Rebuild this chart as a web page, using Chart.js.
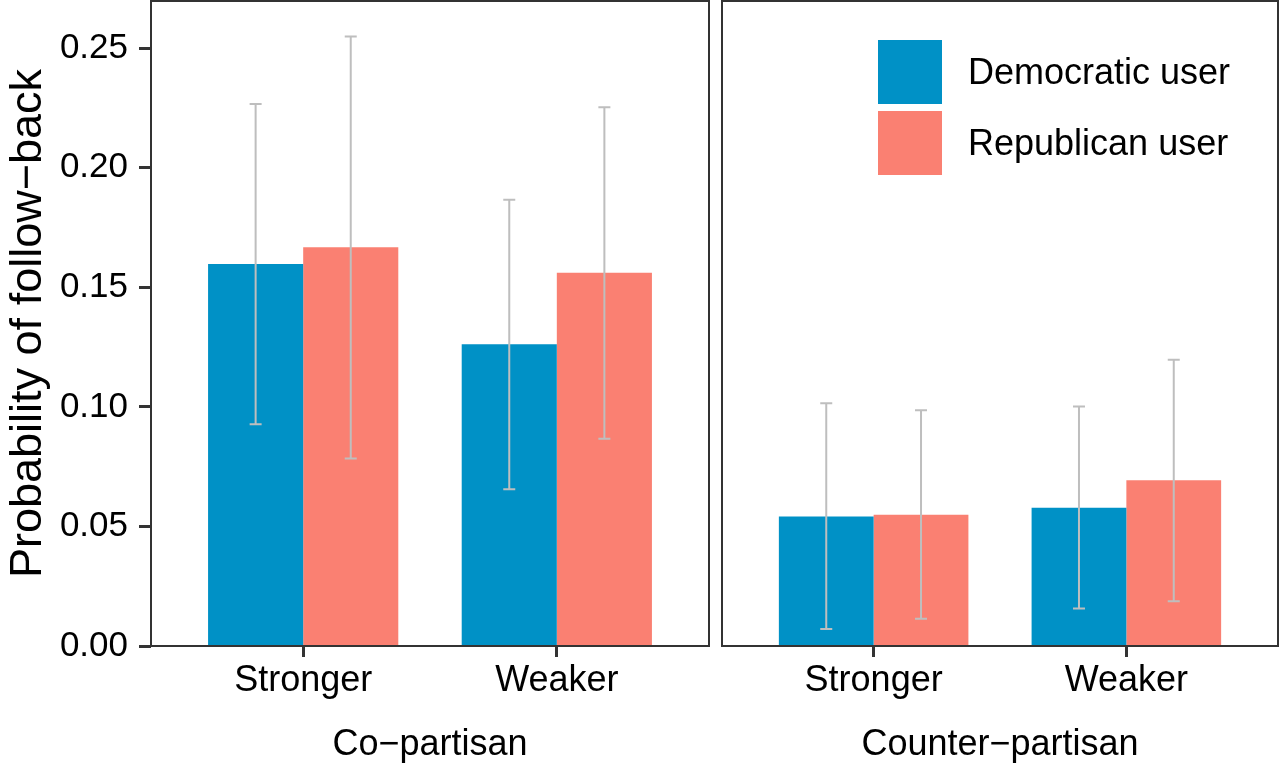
<!DOCTYPE html>
<html lang="en">
<head>
<meta charset="UTF-8">
<title>Probability of follow-back</title>
<script src="https://cdn.jsdelivr.net/npm/chart.js"></script>
<style>
  html, body { margin: 0; padding: 0; background: #fff; }
  #wrap { position: relative; width: 1280px; height: 771px; font-family: 'Liberation Sans', Arial, sans-serif; }
  .pane { position: absolute; top: 0; height: 771px; }
  #paneLeft { left: 0; width: 712px; }
  #paneRight { left: 712px; width: 568px; }
  #legend { position: absolute; left: 878px; top: 40px; }
  .item { display: flex; align-items: center; height: 64px; margin-bottom: 7px; }
  .key { width: 64px; height: 64px; margin-right: 26px; }
  .lbl { font-size: 36px; color: #000; white-space: nowrap; }
</style>
</head>
<body>
<div id="wrap">
  <div class="pane" id="paneLeft"><canvas id="leftChart"></canvas></div>
  <div class="pane" id="paneRight"><canvas id="rightChart"></canvas></div>
  <div id="legend"></div>
</div>
<script>
// categories
const groups = ['Stronger', 'Weaker'];
const panels = ['Co\u2212partisan', 'Counter\u2212partisan'];
const seriesNames = ['Democratic user', 'Republican user'];
const seriesColors = ['#0091C6', '#FA8072'];
const yTicks = [0, 0.05, 0.10, 0.15, 0.20, 0.25];

// Co-partisan panel
const demCo = [0.1597, 0.1262];
const demCoLo = [0.0927, 0.0655];
const demCoHi = [0.2266, 0.1866];
const repCo = [0.1667, 0.1561];
const repCoLo = [0.0784, 0.0867];
const repCoHi = [0.2549, 0.2253];

// Counter-partisan panel
const demCounter = [0.0542, 0.0578];
const demCounterLo = [0.0071, 0.0157];
const demCounterHi = [0.1015, 0.1001];
const repCounter = [0.0549, 0.0693];
const repCounterLo = [0.0114, 0.0187];
const repCounterHi = [0.0986, 0.1197];

const FONT = "'Liberation Sans', Arial, sans-serif";
const INK = '#333333';

// bars sit on x = 1, 2 of a linear axis, like a discrete ggplot axis
function points(vals) {
  return vals.map((v, i) => ({ x: i + 1, y: v }));
}

// draws the whiskers from each bar's own position and the y scale
const errorBars = {
  id: 'errorBars',
  afterDatasetsDraw(chart) {
    const ctx = chart.ctx;
    const y = chart.scales.y;
    chart.data.datasets.forEach((ds, i) => {
      const meta = chart.getDatasetMeta(i);
      meta.data.forEach((bar, j) => {
        const top = y.getPixelForValue(ds.hi[j]);
        const bot = y.getPixelForValue(ds.lo[j]);
        ctx.save();
        ctx.strokeStyle = '#BEBEBE';
        ctx.lineWidth = 2;
        ctx.beginPath();
        ctx.moveTo(bar.x, top);
        ctx.lineTo(bar.x, bot);
        ctx.moveTo(bar.x - 6, top);
        ctx.lineTo(bar.x + 6, top);
        ctx.moveTo(bar.x - 6, bot);
        ctx.lineTo(bar.x + 6, bot);
        ctx.stroke();
        ctx.restore();
      });
    });
  }
};

// panel frame
const panelBorder = {
  id: 'panelBorder',
  afterDraw(chart) {
    const a = chart.chartArea;
    const ctx = chart.ctx;
    ctx.save();
    ctx.strokeStyle = INK;
    ctx.lineWidth = 2;
    ctx.strokeRect(a.left, a.top, a.right - a.left, a.bottom - a.top);
    ctx.restore();
  }
};

function makeChart(id, panelTitle, dem, demLo, demHi, rep, repLo, repHi, showY, padding) {
  return new Chart(document.getElementById(id), {
    type: 'bar',
    data: {
      datasets: [{
        label: seriesNames[0],
        data: points(dem),
        lo: demLo,
        hi: demHi,
        backgroundColor: seriesColors[0]
      }, {
        label: seriesNames[1],
        data: points(rep),
        lo: repLo,
        hi: repHi,
        backgroundColor: seriesColors[1]
      }]
    },
    options: {
      responsive: true,
      maintainAspectRatio: false,
      animation: false,
      categoryPercentage: 0.75,
      barPercentage: 1.0,
      layout: { padding: padding },
      plugins: {
        legend: { display: false },
        tooltip: { enabled: false }
      },
      scales: {
        x: {
          type: 'linear',
          min: 0.4,
          max: 2.6,
          offset: false,
          afterBuildTicks: (axis) => { axis.ticks = groups.map((g, i) => ({ value: i + 1 })); },
          afterFit: (axis) => { axis.height = 125; axis.paddingLeft = 0; axis.paddingRight = 0; },
          border: { display: false },
          grid: { offset: false, drawOnChartArea: false, drawTicks: true, tickLength: 11, tickWidth: 3, tickColor: INK },
          ticks: {
            callback: (v) => groups[v - 1],
            color: '#000',
            padding: 2,
            maxRotation: 0,
            autoSkip: false,
            font: { family: FONT, size: 36 }
          },
          title: {
            display: true,
            text: panelTitle,
            color: '#000',
            padding: { top: 0, bottom: 4 },
            font: { family: FONT, size: 36 }
          }
        },
        y: {
          display: showY,
          min: 0,
          max: 0.2697,
          afterBuildTicks: (axis) => { axis.ticks = yTicks.map(v => ({ value: v })); },
          afterFit: (axis) => { axis.width = showY ? 151 : 0; axis.paddingTop = 0; axis.paddingBottom = 0; },
          border: { display: false },
          grid: { drawOnChartArea: false, drawTicks: true, tickLength: 12, tickWidth: 3, tickColor: INK },
          ticks: {
            callback: (v) => v.toFixed(2),
            color: '#000',
            padding: 11,
            font: { family: FONT, size: 35 }
          },
          title: {
            display: true,
            text: 'Probability of follow\u2212back',
            color: '#000',
            padding: { top: 2, bottom: 0 },
            font: { family: FONT, size: 45 }
          }
        }
      }
    },
    plugins: [errorBars, panelBorder]
  });
}

makeChart('leftChart', panels[0], demCo, demCoLo, demCoHi, repCo, repCoLo, repCoHi, true,
  { top: 1, right: 3, left: 0, bottom: 0 });
makeChart('rightChart', panels[1], demCounter, demCounterLo, demCounterHi, repCounter, repCounterLo, repCounterHi, false,
  { top: 1, right: 2, left: 10, bottom: 0 });

// legend inside the right panel
const legend = document.getElementById('legend');
seriesNames.forEach((name, i) => {
  const item = document.createElement('div');
  item.className = 'item';
  item.innerHTML = '<div class="key" style="background:' + seriesColors[i] + '"></div><span class="lbl">' + name + '</span>';
  legend.appendChild(item);
});
</script>
</body>
</html>
